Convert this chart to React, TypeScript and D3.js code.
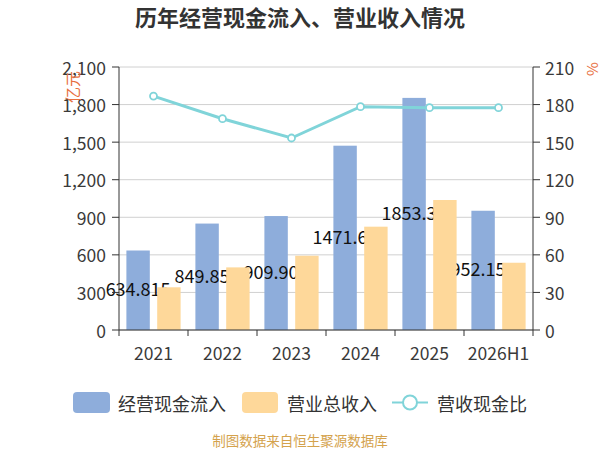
import React from "react";
import * as d3 from "d3";

const categories = ["2021", "2022", "2023", "2024", "2025", "2026H1"];
const cashIn = [634.815, 849.851, 909.904, 1471.63, 1853.34, 952.157];
const revenue = [341, 500, 593, 825, 1038, 537];
const ratio = [186.8, 168.7, 153.3, 178.3, 177.5, 177.5];
const leftTicks = [0, 300, 600, 900, 1200, 1500, 1800, 2100];
const rightTicks = [0, 30, 60, 90, 120, 150, 180, 210];
const seriesNames = ["经营现金流入", "营业总收入", "营收现金比"];

const width = 600;
const height = 450;
const margin = { top: 67, right: 67, bottom: 120, left: 119 };
const font = "'Noto Sans CJK SC', 'Noto Sans', sans-serif";

const blue = "#8eaddb";
const orange = "#fed89a";
const teal = "#80d4d9";
const axisColor = "#333";
const textColor = "#3a3a3a";
const unitColor = "#e8703f";

export default function App() {
  const innerW = width - margin.left - margin.right;
  const innerH = height - margin.top - margin.bottom;

  const x = d3.scaleBand().domain(categories).range([0, innerW]).padding(0);
  const sub = d3
    .scaleBand<number>()
    .domain([0, 1])
    .range([0, x.bandwidth()])
    .paddingInner(0.24)
    .paddingOuter(0.24);
  const yL = d3.scaleLinear().domain([0, 2100]).range([innerH, 0]);
  const yR = d3.scaleLinear().domain([0, 210]).range([innerH, 0]);

  const line = d3
    .line<number>()
    .x((_, i) => x(categories[i])! + x.bandwidth() / 2)
    .y((d) => yR(d));

  return (
    <svg
      width={width}
      height={height}
      style={{ position: "absolute", left: 0, top: 0, background: "#fff" }}
      fontFamily={font}
    >
      <text x={300} y={26} textAnchor="middle" fontSize={22} fontWeight="bold" fill="#333">
        历年经营现金流入、营业收入情况
      </text>

      <g transform={`translate(${margin.left},${margin.top})`}>
        {leftTicks.map((t) => (
          <line key={"g" + t} x1={0} x2={innerW} y1={yL(t)} y2={yL(t)} stroke="#d0d0d0" />
        ))}

        {/* blue bars */}
        {categories.map((c, i) => (
          <rect
            key={"b" + c}
            x={x(c)! + sub(0)!}
            y={yL(cashIn[i])}
            width={sub.bandwidth()}
            height={innerH - yL(cashIn[i])}
            fill={blue}
          />
        ))}

        {/* labels sit under the orange bars */}
        {categories.map((c, i) => (
          <text
            key={"l" + c}
            x={x(c)! + sub(0)! + sub.bandwidth() / 2}
            y={yL(cashIn[i] / 2) - 2}
            textAnchor="middle"
            dominantBaseline="central"
            fontSize={18}
            fill="#111"
          >
            {cashIn[i]}
          </text>
        ))}

        {categories.map((c, i) => (
          <rect
            key={"o" + c}
            x={x(c)! + sub(1)!}
            y={yL(revenue[i])}
            width={sub.bandwidth()}
            height={innerH - yL(revenue[i])}
            fill={orange}
          />
        ))}

        <path d={line(ratio)!} fill="none" stroke={teal} strokeWidth={3} />
        {ratio.map((r, i) => (
          <circle
            key={"p" + i}
            cx={x(categories[i])! + x.bandwidth() / 2}
            cy={yR(r)}
            r={3.5}
            fill="#fff"
            stroke={teal}
            strokeWidth={1.8}
          />
        ))}

        {/* left axis */}
        <line x1={0} x2={0} y1={0} y2={innerH} stroke={axisColor} />
        {leftTicks.map((t) => (
          <g key={"lt" + t} transform={`translate(0,${yL(t)})`}>
            <line x1={-7} x2={0} stroke={axisColor} />
            <text x={-13} textAnchor="end" dominantBaseline="central" fontSize={17.5} fill={textColor}>
              {d3.format(",")(t)}
            </text>
          </g>
        ))}

        {/* right axis */}
        <line x1={innerW} x2={innerW} y1={0} y2={innerH} stroke={axisColor} />
        {rightTicks.map((t) => (
          <g key={"rt" + t} transform={`translate(${innerW},${yR(t)})`}>
            <line x1={0} x2={7} stroke={axisColor} />
            <text x={12} textAnchor="start" dominantBaseline="central" fontSize={17.5} fill={textColor}>
              {t}
            </text>
          </g>
        ))}

        {/* bottom axis */}
        <line x1={0} x2={innerW} y1={innerH} y2={innerH} stroke={axisColor} />
        {[...categories.map((c) => x(c)!), innerW].map((p, i) => (
          <line key={"bt" + i} x1={p} x2={p} y1={innerH} y2={innerH + 6} stroke={axisColor} />
        ))}
        {categories.map((c) => (
          <text
            key={"xl" + c}
            x={x(c)! + x.bandwidth() / 2}
            y={innerH + 22}
            textAnchor="middle"
            dominantBaseline="central"
            fontSize={17.5}
            fill={textColor}
          >
            {c}
          </text>
        ))}
      </g>

      <text
        transform="translate(72,87) rotate(-90)"
        textAnchor="middle"
        dominantBaseline="central"
        fontSize={16}
        fill={unitColor}
      >
        亿元
      </text>
      <text
        transform="translate(591,69) rotate(-90)"
        textAnchor="middle"
        dominantBaseline="central"
        fontSize={15}
        fill={unitColor}
      >
        %
      </text>

      {/* legend */}
      <g fontSize={18} fill="#333">
        <rect x={73} y={392} width={37} height={21} rx={4} fill={blue} />
        <text x={118} y={402.5} dominantBaseline="central">{seriesNames[0]}</text>
        <rect x={242} y={392} width={36} height={21} rx={4} fill={orange} />
        <text x={287} y={402.5} dominantBaseline="central">{seriesNames[1]}</text>
        <line x1={392} x2={428} y1={402.5} y2={402.5} stroke={teal} strokeWidth={2} />
        <circle cx={410} cy={402.5} r={7} fill="#fff" stroke={teal} strokeWidth={2} />
        <text x={437} y={402.5} dominantBaseline="central">{seriesNames[2]}</text>
      </g>

      <text x={300} y={440} textAnchor="middle" dominantBaseline="central" fontSize={13.5} fill="#d4a24c">
        制图数据来自恒生聚源数据库
      </text>
    </svg>
  );
}
